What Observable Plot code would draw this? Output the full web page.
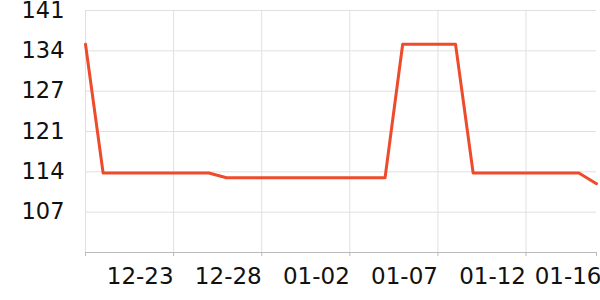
<!DOCTYPE html>
<html><head><meta charset="utf-8">
<script src="https://cdn.jsdelivr.net/npm/d3@7"></script>
<script src="https://cdn.jsdelivr.net/npm/@observablehq/plot@0.6"></script>
<style>body{margin:0;background:#fff;font-family:"DejaVu Sans";}</style>
</head><body><div id="chart"></div>
<script>
const startDate = "2023-12-18";
const values = [135.3,113.6,113.6,113.6,113.6,113.6,113.6,113.6,112.8,112.8,112.8,112.8,112.8,112.8,112.8,112.8,112.8,112.8,135.3,135.3,135.3,135.3,113.6,113.6,113.6,113.6,113.6,113.6,113.6,111.8];
const yMin = 100.2, yMax = 141, yStep = 6.8;
const yTicks = [1,2,3,4,5,6].map(k => +(yMin + k*yStep).toFixed(2));
const xLabelDates = ["2023-12-23","2023-12-28","2024-01-02","2024-01-07","2024-01-12"];
const xLastLabelDate = "2024-01-16";
const xGridDates = ["2023-12-18","2023-12-23","2023-12-28","2024-01-02","2024-01-07","2024-01-12"];

const t0 = new Date(startDate + "T00:00Z");
const data = values.map((v,i) => ({date: new Date(t0.getTime() + i*864e5), value: v}));
const xLab = xLabelDates.map(d => new Date(d + "T00:00Z"));
const xLast = new Date(xLastLabelDate + "T00:00Z");
const xGrid = xGridDates.map(d => new Date(d + "T00:00Z"));
const fmt = d3.utcFormat("%m-%d");

const chart = Plot.plot({
  width: 600, height: 300,
  marginLeft: 85, marginRight: 4, marginTop: 10, marginBottom: 48,
  style: {fontFamily: "DejaVu Sans", fontSize: "22.5px", color: "#111", background: "#fff"},
  x: {type: "utc", domain: [data[0].date, data[data.length-1].date]},
  y: {domain: [yMin, yMax]},
  marks: [
    Plot.ruleY(yTicks, {stroke: "#e0e0e0", strokeWidth: 1}),
    Plot.ruleX(xGrid, {stroke: "#e0e0e0", strokeWidth: 1}),
    Plot.ruleY([yMin], {stroke: "#bbb", strokeWidth: 1}),
    Plot.axisY({ticks: yTicks, tickSize: 0, tickPadding: 21, tickFormat: d => Math.round(d), fontSize: 22.5, label: null}),
    Plot.axisX({ticks: xGrid.concat([xLast]), tickSize: 4, stroke: "#bbb", tickFormat: () => "", label: null}),
    Plot.axisX({ticks: xLab, tickSize: 0, tickPadding: 15, textAnchor: "end", tickFormat: fmt, label: null, fontSize: 23}),
    Plot.axisX({ticks: [xLast], tickSize: 0, tickPadding: 15, textAnchor: "end", dx: 5, tickFormat: fmt, label: null, fontSize: 23}),
    Plot.line(data, {x: "date", y: "value", stroke: "#ee4a2c", strokeWidth: 3})
  ]
});
document.getElementById("chart").append(chart);
</script></body></html>
